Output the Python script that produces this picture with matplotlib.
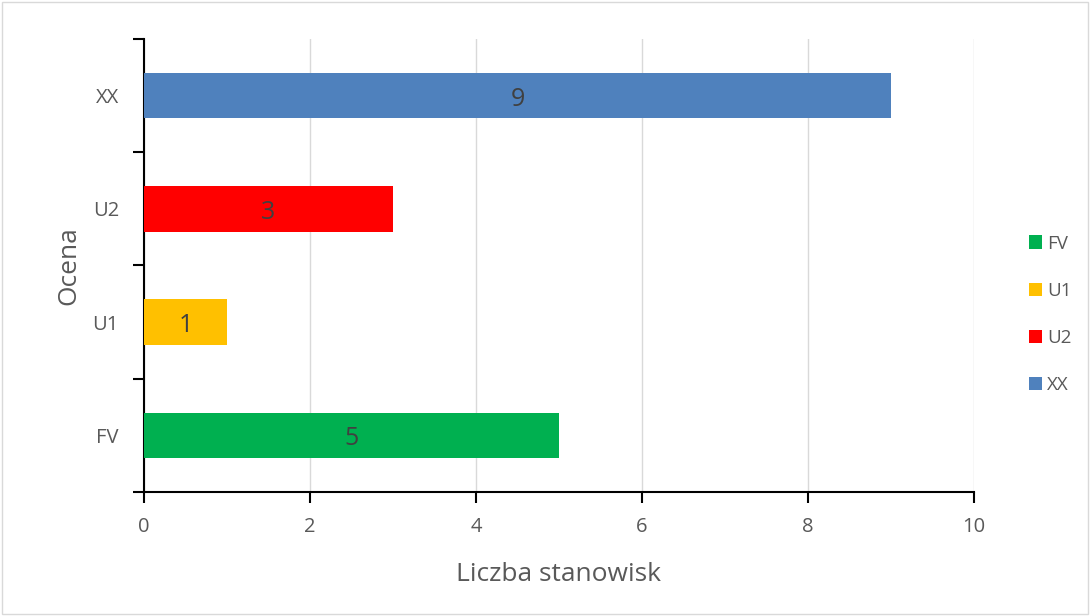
import matplotlib.pyplot as plt
from matplotlib.patches import Patch, Rectangle

# data
categories = ['FV', 'U1', 'U2', 'XX']
values = [5, 1, 3, 9]
colors = ['#00B050', '#FFC000', '#FF0000', '#4F81BD']

plt.rcParams['font.family'] = ['Open Sans', 'DejaVu Sans']
grey = '#595959'

fig = plt.figure(figsize=(10.9, 6.16), dpi=100)
ax = fig.add_axes([0.132, 0.2013, 0.7616, 0.7354])

# border round the chart area
fig.patches.append(Rectangle((0.002, 0.003), 0.996, 0.994, transform=fig.transFigure,
                             fill=False, edgecolor='#d9d9d9', linewidth=1))

pos = list(range(len(categories)))
bars = ax.barh(pos, values, height=0.4, color=colors, zorder=3)
for b, v in zip(bars, values):
    ax.text(v / 2, b.get_y() + b.get_height() / 2 - 0.03, str(v), ha='center', va='center',
            fontsize=18, color='#404040', zorder=4)

ax.set_xlim(0, 10)
ax.set_ylim(-0.5, 3.5)
ax.set_xticks(range(0, 11, 2))
ax.set_yticks(pos)
ax.set_yticklabels(categories)
ax.set_yticks([-0.5, 0.5, 1.5, 2.5, 3.5], minor=True)
ax.tick_params(axis='y', which='major', length=0, pad=18, labelsize=14.5, labelcolor=grey)
ax.tick_params(axis='y', which='minor', length=8, width=1.5, color='black')
ax.tick_params(axis='x', which='major', length=8, width=1.5, color='black',
               labelsize=14.5, labelcolor=grey, pad=10)

ax.grid(axis='x', color='#d9d9d9', linewidth=1, zorder=0)
for s in ['top', 'right']:
    ax.spines[s].set_visible(False)
for s in ['left', 'bottom']:
    ax.spines[s].set_linewidth(1.5)
    ax.spines[s].set_color('black')

ax.set_xlabel('Liczba stanowisk', fontsize=19, color=grey, labelpad=18)
ax.set_ylabel('Ocena', fontsize=19, color=grey, labelpad=8)

handles = [Patch(facecolor=c, label=l) for c, l in zip(colors, categories)]
fig.legend(handles=handles, loc='center left', bbox_to_anchor=(0.944, 0.49), frameon=False,
           fontsize=13.5, labelcolor=grey, handlelength=0.7, handleheight=0.7,
           handletextpad=0.25, labelspacing=1.55, borderpad=0, borderaxespad=0)

fig.savefig('out.png', dpi=100)
